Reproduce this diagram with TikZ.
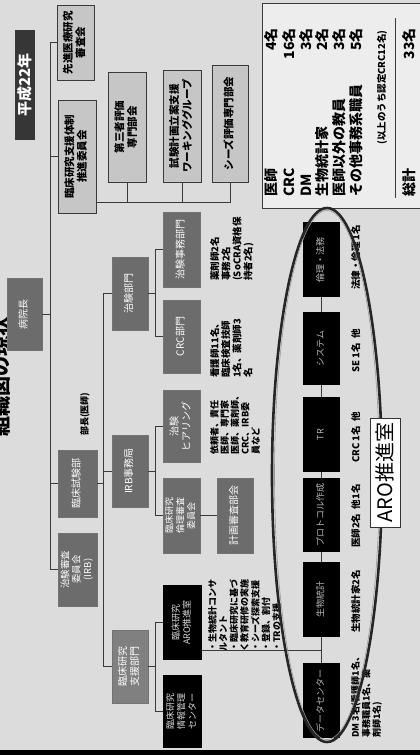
\documentclass[tikz,border=0pt]{standalone}
\usepackage{fontspec}
\setmainfont{Noto Sans CJK JP}
\usepackage{graphicx}
\newcommand{\rtc}[1]{\rotatebox{90}{\begin{tabular}{@{}c@{}}#1\end{tabular}}}
\newcommand{\rtl}[1]{\rotatebox{90}{\begin{tabular}{@{}l@{}}#1\end{tabular}}}
\definecolor{bg}{HTML}{DCDCDC}
\definecolor{lbox}{HTML}{C6C6C6}
\definecolor{mbox}{HTML}{6C6C6C}
\definecolor{dbox}{HTML}{363636}
\definecolor{ln}{HTML}{3A3A3A}
\begin{document}
\begin{tikzpicture}[x=1pt,y=-1pt,
  lightbox/.style={draw=ln, line width=0.6pt, fill=lbox, inner sep=0pt, text=black,
    font=\fontsize{10.5}{12.5}\selectfont\bfseries},
  midbox/.style={draw=black!55, line width=0.4pt, fill=mbox, inner sep=0pt, text=white,
    font=\fontsize{10}{12}\selectfont},
  blkbox/.style={fill=black, inner sep=0pt, text=white!72!black,
    font=\fontsize{9}{11}\selectfont},
  note/.style={inner sep=0pt, anchor=south west, font=\fontsize{9.5}{9.8}\selectfont\bfseries},
  conn/.style={draw=ln, line width=0.7pt},
  statl/.style={inner sep=0pt, anchor=south, font=\fontsize{14}{16}\selectfont\bfseries},
  statn/.style={inner sep=0pt, anchor=north, font=\fontsize{14}{16}\selectfont\bfseries},
]
\fill[bg] (0,0) rectangle (420,755);
\useasboundingbox (0,0) rectangle (420,755);
\fill[black] (0,750) rectangle (420,755);

% title and year
\node[inner sep=0pt, font=\fontsize{20}{22}\selectfont\bfseries] (title) at (1,376) {\rotatebox{90}{組織図の現状}};
\node[fill=dbox, minimum width=20pt, minimum height=110pt, inner sep=0pt, text=white,
  font=\fontsize{15}{16}\selectfont\bfseries] (heisei) at (25,85) {\rotatebox{90}{平成22年}};

% stats box
\node[draw=ln, line width=0.6pt, fill=black!7, minimum width=162pt, minimum height=205pt, inner sep=0pt] (stats) at (343,105.5) {};
\coordinate (sep1) at (395,18);
\coordinate (sep2) at (395,198);
\draw[ln, line width=0.6pt] (sep1) -- (sep2);
\node[statl] (l1) at (271,197) {\rotatebox{90}{医師}};
\node[statl] (l2) at (289,197) {\rotatebox{90}{CRC}};
\node[statl] (l3) at (306,197) {\rotatebox{90}{DM}};
\node[statl] (l4) at (322.5,197) {\rotatebox{90}{生物統計家}};
\node[statl] (l5) at (339,197) {\rotatebox{90}{医師以外の教員}};
\node[statl] (l6) at (356,197) {\rotatebox{90}{その他事務系職員}};
\node[statl] (l7) at (409,197) {\rotatebox{90}{総計}};
\node[statn] (n1) at (271,28) {\rotatebox{90}{4名}};
\node[statn] (n2) at (289,28) {\rotatebox{90}{16名}};
\node[statn] (n3) at (306,28) {\rotatebox{90}{3名}};
\node[statn] (n4) at (322.5,28) {\rotatebox{90}{2名}};
\node[statn] (n5) at (339,28) {\rotatebox{90}{3名}};
\node[statn] (n6) at (356,28) {\rotatebox{90}{5名}};
\node[statn, font=\fontsize{9.5}{11}\selectfont\bfseries] (n7) at (382,30) {\rotatebox{90}{(以上のうち認定CRC12名)}};
\node[statn] (n8) at (409,28) {\rotatebox{90}{33名}};

% top level boxes
\node[lightbox, minimum width=37pt, minimum height=75pt] (sensin) at (75.5,42.5) {\rtc{先進医療研究\\審査会}};
\node[lightbox, minimum width=38pt, minimum height=113pt] (suishin) at (77,156.5) {\rtc{臨床研究支援体制\\推進委員会}};
\node[lightbox, minimum width=38pt, minimum height=110pt] (daisan) at (127,127) {\rtc{第三者評価\\専門部会}};
\node[lightbox, minimum width=38pt, minimum height=112pt] (shiken) at (182,126) {\rtc{試験計画立案支援\\ワーキンググループ}};
\node[lightbox, minimum width=36pt, minimum height=117pt] (seeds) at (230,123.5) {\rtc{シーズ評価専門部会}};

\node[midbox, minimum width=35pt, minimum height=72pt] (hosp) at (24.5,314) {\rtc{病院長}};
\node[midbox, minimum width=39pt, minimum height=67pt] (rinsho) at (77.5,483.5) {\rtc{臨床試験部}};
\node[midbox, minimum width=39pt, minimum height=73pt, font=\fontsize{9.5}{11}\selectfont] (irb) at (77.5,569.5) {\rtc{治験審査\\委員会\\(IRB)}};
\node[note, anchor=south, font=\fontsize{9}{10}\selectfont\bfseries] (bucho) at (85,436) {\rotatebox{90}{部長(医師)}};

% second level
\node[midbox, minimum width=36pt, minimum height=73pt] (chiken) at (130,293.5) {\rtc{治験部門}};
\node[midbox, minimum width=36pt, minimum height=72pt] (irbjim) at (130,471) {\rtc{IRB事務局}};
\node[midbox, fill=black!50, minimum width=36pt, minimum height=73pt] (shien) at (130,666.5) {\rtc{臨床研究\\支援部門}};

% third level
\node[midbox, minimum width=37pt, minimum height=75pt] (jimu) at (181.5,249.5) {\rtc{治験事務部門}};
\node[midbox, minimum width=37pt, minimum height=73pt] (crc) at (181.5,336.5) {\rtc{CRC部門}};
\node[midbox, minimum width=37pt, minimum height=72pt] (hear) at (181.5,426) {\rtc{治験\\ヒアリング}};
\node[midbox, minimum width=37pt, minimum height=75pt, font=\fontsize{9}{11}\selectfont] (rinri) at (181.5,515.5) {\rtc{臨床研究\\倫理審査\\委員会}};
\node[midbox, minimum width=36pt, minimum height=75pt] (keikaku) at (235,515.5) {\rtc{計画審査部会}};
\node[blkbox, text=white!85!black, minimum width=39pt, minimum height=75pt] (aroj) at (182.5,622.5) {\rtc{臨床研究\\ARO推進室}};
\node[blkbox, text=white!85!black, minimum width=39pt, minimum height=73pt] (center2) at (182.5,711.5) {\rtc{臨床研究\\情報管理\\センター}};

% notes
\node[note] (nt1) at (210,281) {\rtl{薬剤師2名\\事務2名\\(SoCRA資格保\\持者2名)}};
\node[note] (nt2) at (210,378) {\rtl{看護師11名、\\臨床検査技師\\1名、薬剤師3\\名}};
\node[note, font=\fontsize{9}{8.6}\selectfont\bfseries] (nt3) at (210,455) {\rtl{依頼者、責任\\医師、専門家\\医師、薬剤師、\\CRC、IRB委\\員など}};
\node[note, font=\fontsize{9}{9.9}\selectfont\bfseries] (nt4) at (208,652) {\rtl{・生物統計コンサ\\ルタント\\・臨床研究に基づ\\く教育研修の実施\\・シーズ探索支援\\・登録、割付\\・TRの支援}};

% ARO column
\node[blkbox, minimum width=37pt, minimum height=75pt] (b1) at (321.5,259.5) {\rtc{倫理・法務}};
\node[blkbox, minimum width=37pt, minimum height=73pt] (b2) at (321.5,348.5) {\rtc{システム}};
\node[blkbox, minimum width=37pt, minimum height=75pt] (b3) at (321.5,434.5) {\rtc{TR}};
\node[blkbox, minimum width=37pt, minimum height=74pt] (b4) at (321.5,515) {\rtc{プロトコル作成}};
\node[blkbox, minimum width=37pt, minimum height=75pt] (b5) at (321.5,599.5) {\rtc{生物統計}};
\node[blkbox, minimum width=37pt, minimum height=75pt] (b6) at (321.5,700.5) {\rtc{データセンター}};

\node[note] (a1) at (351,290) {\rotatebox{90}{法律・倫理 1名}};
\node[note] (a2) at (351,373) {\rotatebox{90}{SE 1名\ \ 他}};
\node[note] (a3) at (351,463) {\rotatebox{90}{CRC 1名\ \ 他}};
\node[note] (a4) at (351,548) {\rotatebox{90}{医師2名\ \ 他1名}};
\node[note] (a5) at (351,633) {\rotatebox{90}{生物統計家2名}};
\node[note, font=\fontsize{9}{9.6}\selectfont\bfseries] (a6) at (351,738) {\rtl{DM 3名(看護師1名、\\事務職員1名、薬\\剤師1名)}};

% connectors
\coordinate (tk) at (50,0);
\coordinate (s2) at (103,0);
\coordinate (s3) at (155,0);
\coordinate (jn) at (0,202);
\coordinate (ah) at (0,650);
\draw[conn] (sensin.west) -- (sensin.west -| tk) -- (irb.west -| tk) -- (irb.west);
\draw[conn] (suishin.west) -- (suishin.west -| tk);
\draw[conn] (hosp.east) -- (hosp.east -| tk);
\draw[conn] (rinsho.west) -- (rinsho.west -| tk);
\draw[conn] (suishin.east |- jn) -- (seeds.south |- jn) -- (seeds.south);
\draw[conn] (daisan.south) -- (daisan.south |- jn);
\draw[conn] (shiken.south) -- (shiken.south |- jn);
\draw[conn] (rinsho.east) -- (rinsho.east -| s2);
\draw[conn] (chiken.west) -- (chiken.west -| s2) -- (shien.west -| s2) -- (shien.west);
\draw[conn] (irbjim.west) -- (irbjim.west -| s2);
\draw[conn] (chiken.east) -- (chiken.east -| s3);
\draw[conn] (jimu.west) -- (jimu.west -| s3) -- (crc.west -| s3) -- (crc.west);
\draw[conn] (irbjim.east) -- (irbjim.east -| s3);
\draw[conn] (hear.west) -- (hear.west -| s3) -- (rinri.west -| s3) -- (rinri.west);
\draw[conn] (rinri.east) -- (keikaku.west);
\draw[conn] (shien.east) -- (shien.east -| s3);
\draw[conn] (aroj.west) -- (aroj.west -| s3) -- (center2.west -| s3) -- (center2.west);
\draw[conn] (b1.south) -- (b2.north);
\draw[conn] (b2.south) -- (b3.north);
\draw[conn] (b3.south) -- (b4.north);
\draw[conn] (b4.south) -- (b5.north);
\draw[conn] (b5.south) -- (b6.north);
\draw[conn] (aroj.east |- ah) -- (b5.south |- ah);

% ellipse
\coordinate (ec) at (327,475);
\draw[black!85, line width=2.6pt] (ec) ellipse [x radius=55, y radius=267];
\draw[black!40, line width=0.6pt] (ec) ellipse [x radius=52.5, y radius=264.5];

\node[draw=black!80, line width=0.6pt, fill=white, minimum width=30pt, minimum height=109pt, inner sep=0pt,
  font=\fontsize{20}{22}\selectfont] (arolbl) at (385,472.5) {\rotatebox{90}{ARO推進室}};
\end{tikzpicture}
\end{document}
